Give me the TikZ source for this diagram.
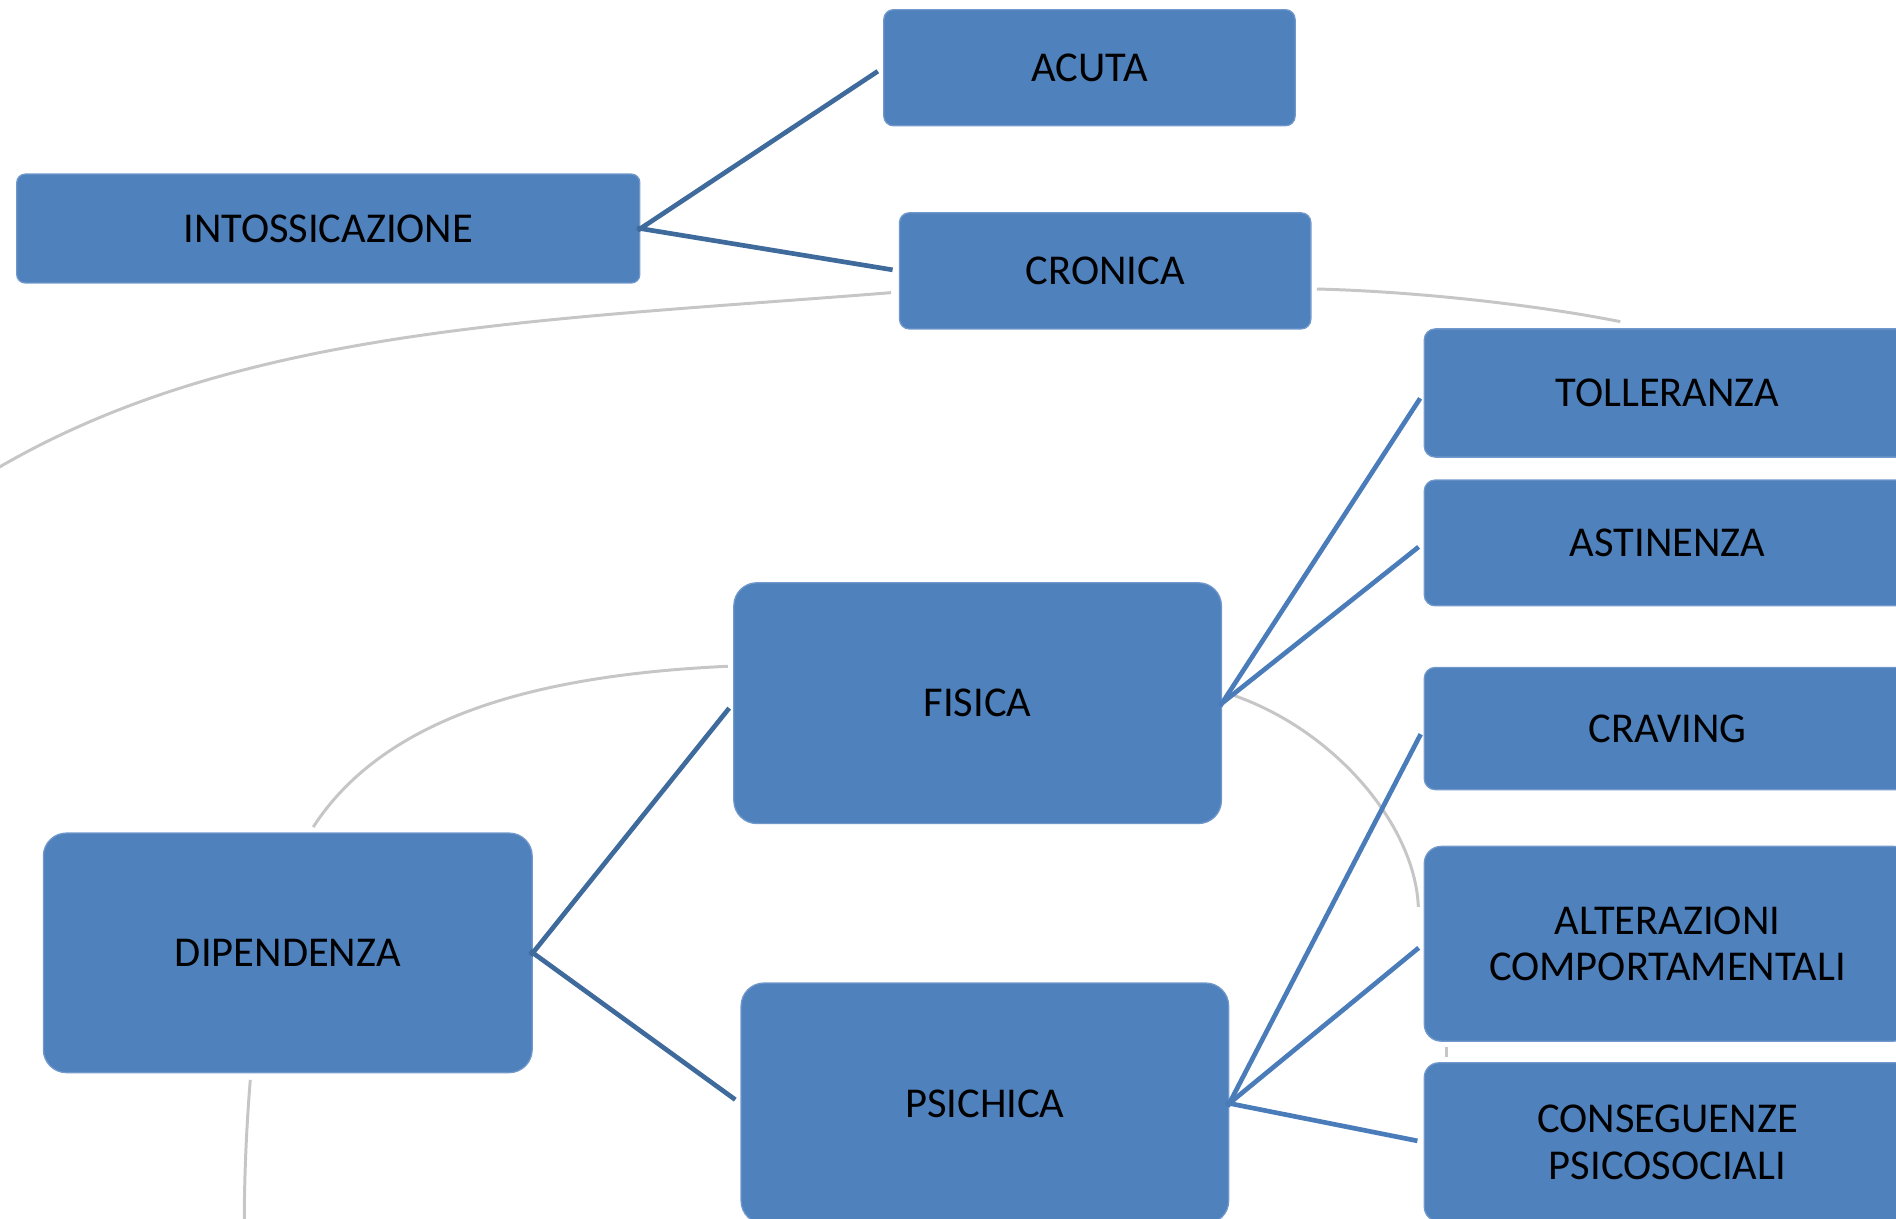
\documentclass[tikz,border=0pt]{standalone}
\usepackage{fontspec}
\setmainfont{Carlito}
\definecolor{boxblue}{HTML}{4F81BD}
\definecolor{boxedge}{HTML}{7098CB}
\definecolor{linkdark}{HTML}{3F6A9C}
\definecolor{linklight}{HTML}{4A7CBA}
\definecolor{arcgray}{HTML}{C6C6C6}
\begin{document}
\begin{tikzpicture}[x=0.01cm,y=-0.01cm,
    bluebox/.style={rectangle,fill=boxblue,draw=boxedge,line width=0.3pt,inner sep=0pt,
      align=center,font=\fontsize{10}{11}\selectfont},
    link/.style={line width=1.1pt,shorten <=-0.8pt,shorten >=1.5pt},
    bgarc/.style={arcgray,line width=0.7pt}]
  \useasboundingbox (0,0) rectangle (1568,1008);
  % background arcs
  \draw[bgarc] (-10,392) -- (0,386) .. controls (200,270) and (450,265) .. (737,242);
  \draw[bgarc] (1089,239) .. controls (1170,241) and (1270,252) .. (1340,266);
  \draw[bgarc] (259,684) .. controls (320,590) and (450,558) .. (602,551);
  \draw[bgarc] (1014,573) .. controls (1100,600) and (1170,680) .. (1173,750);
  \draw[bgarc] (1196,866) -- (1196,874);
  \draw[bgarc] (207,893) .. controls (204,930) and (202,970) .. (202,1015);
  % boxes
  \node[bluebox,minimum width=5.15cm,minimum height=0.9cm,rounded corners=0.07cm](intox)at(271.5,189){INTOSSICAZIONE};
  \node[bluebox,minimum width=3.4cm,minimum height=0.96cm,rounded corners=0.08cm](acuta)at(901,56){ACUTA};
  \node[bluebox,minimum width=3.4cm,minimum height=0.96cm,rounded corners=0.08cm](cronica)at(914,224){CRONICA};
  \node[bluebox,minimum width=4.04cm,minimum height=1.98cm,rounded corners=0.19cm](dipend)at(238,788){DIPENDENZA};
  \node[bluebox,minimum width=4.03cm,minimum height=1.99cm,rounded corners=0.19cm](fisica)at(808.5,581.5){FISICA};
  \node[bluebox,minimum width=4.03cm,minimum height=1.99cm,rounded corners=0.19cm](psichica)at(814.5,912.5){PSICHICA};
  \node[bluebox,minimum width=4.02cm,minimum height=1.06cm,rounded corners=0.09cm](toll)at(1379,325){TOLLERANZA};
  \node[bluebox,minimum width=4.02cm,minimum height=1.04cm,rounded corners=0.09cm](asti)at(1379,449){ASTINENZA};
  \node[bluebox,minimum width=4.02cm,minimum height=1.01cm,rounded corners=0.09cm](crav)at(1379,602.5){CRAVING};
  \node[bluebox,minimum width=4.02cm,minimum height=1.61cm,rounded corners=0.14cm](alter)at(1379,780.5){ALTERAZIONI\\COMPORTAMENTALI};
  \node[bluebox,minimum width=4.02cm,minimum height=1.31cm,rounded corners=0.12cm](conseg)at(1379,944.5){CONSEGUENZE\\PSICOSOCIALI};
  % connectors
  \draw[link,linkdark] (intox.east) -- (acuta.west);
  \draw[link,linkdark] (intox.east) -- (cronica.west);
  \draw[link,linkdark] (dipend.east) -- (fisica.west);
  \draw[link,linkdark] (dipend.east) -- (psichica.west);
  \draw[link,linklight] (fisica.east) -- (toll.west);
  \draw[link,linklight] (fisica.east) -- (asti.west);
  \draw[link,linklight] (psichica.east) -- (crav.west);
  \draw[link,linklight] (psichica.east) -- (alter.west);
  \draw[link,linklight] (psichica.east) -- (conseg.west);
\end{tikzpicture}
\end{document}
